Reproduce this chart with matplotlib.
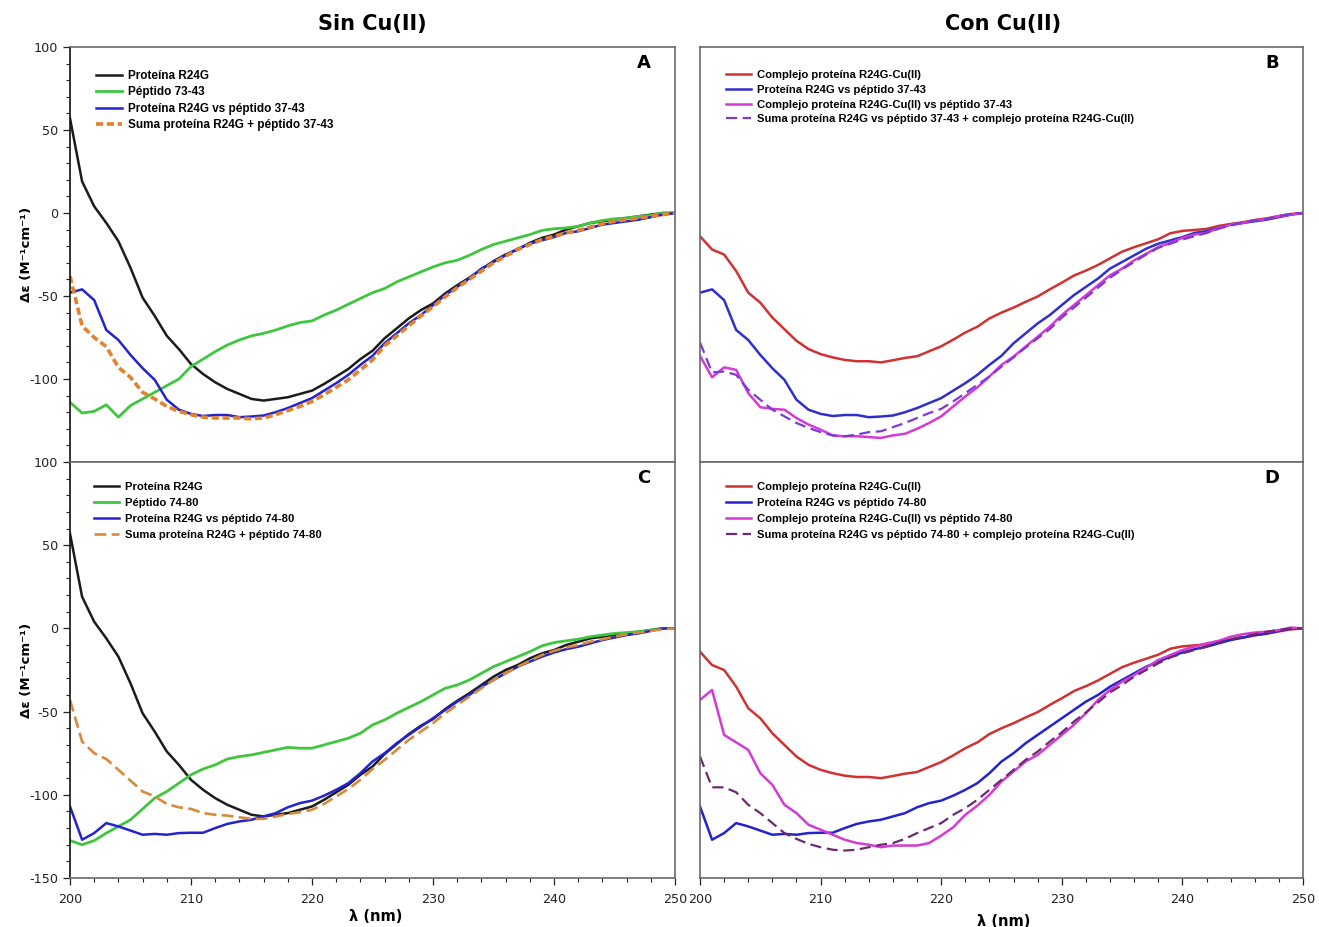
import numpy as np
import matplotlib
matplotlib.use("Agg")
import matplotlib.pyplot as plt
from matplotlib.ticker import MultipleLocator

plt.rcParams["axes.unicode_minus"] = False

# CD spectra, 200-250 nm at 1 nm steps
wl = np.arange(200, 251)

prot_r24g = [57, 19, 4, -6, -17, -33, -51, -62, -74, -82, -91, -97, -102, -106, -109, -112, -113,
             -112, -111, -109, -107, -103, -98.5, -94, -88, -83, -75.5, -69.5, -63.5, -58.5, -54.5,
             -48.5, -43.5, -39, -34, -29, -25, -22, -18, -15, -13, -10, -8, -6, -5, -4, -3, -2, -1, 0, 0]
pep_37_43 = [-114, -120.5, -119.5, -115.5, -123, -116, -112, -108, -104, -100, -92.5, -88, -83.5,
             -79.5, -76.5, -74, -72.5, -70.5, -68, -66, -65, -61.5, -58.5, -55, -51.5, -48, -45.5,
             -41.5, -38.5, -35.5, -32.5, -30, -28.5, -25.5, -22, -19, -17, -15, -13, -10.5, -9.5,
             -9, -8, -6, -4.5, -3.5, -3, -2, -1.5, 0, 0]
vs_37_43 = [-48, -46, -52.5, -70.5, -76.5, -85.5, -93.5, -100.5, -112.5, -118.5, -121, -122.3, -121.7,
            -121.7, -123, -122.6, -122, -120, -117.5, -114.5, -111.5, -107, -102.5, -97.5, -91.5, -86,
            -78.5, -72.5, -66.5, -61.5, -55.5, -49.5, -44.5, -39.5, -33.5, -29.5, -25.5, -21.5, -18.5,
            -16.5, -14.5, -12, -11, -9, -7, -6, -5, -4, -2.5, -1, 0]
sum_37_43 = [-38, -68, -75, -80.5, -93, -99, -108, -112, -116.5, -119.5, -121.5, -123, -123.5, -123.5,
             -123.5, -124, -123.5, -121.5, -119, -116.5, -113.5, -109.5, -105, -100.5, -94.5, -88.5,
             -80, -74, -68, -62, -56.5, -50.5, -45, -40, -35, -30, -26, -22, -19, -16, -14, -12, -10.5,
             -8.5, -6.5, -5, -4, -3, -2, -1, 0]

pep_74_80 = [-127.5, -130, -127.5, -123, -119, -115, -108.5, -102, -98, -93, -88, -84.5, -82, -78.5,
             -77, -76, -74.5, -73, -71.5, -72, -72, -70, -68, -66, -63, -58, -55, -51, -47.5, -44, -40,
             -36, -34, -31, -27, -23, -20, -17, -14, -10.5, -8.5, -7.5, -6.5, -5, -4, -3, -2.5, -2, -1, 0, 0]
vs_74_80 = [-107, -127, -123, -117, -119, -121.5, -124, -123.5, -124, -123, -122.8, -122.8, -120, -117.5,
            -116, -115, -113, -111, -107.5, -105, -103.5, -100.5, -97, -93, -87, -80, -75, -69, -64, -59,
            -54, -49, -44, -40, -35, -31, -27, -23, -20, -17, -14.5, -12.5, -11, -9, -7, -5.5, -4, -3,
            -1.5, 0, 0]
sum_74_80 = [-43, -68, -75, -78.5, -85, -91.5, -98, -101, -105.5, -107.5, -108.5, -111, -112, -112.5,
             -113.5, -114.5, -114.5, -113, -111.5, -110.5, -109, -105.5, -101, -96.5, -91, -84.5, -79,
             -73, -67, -62, -57, -51, -46, -41, -36, -31, -27, -23, -19.5, -16, -13.5, -11.5, -10, -8,
             -6.5, -5, -3.5, -2.5, -1.5, -0.5, 0]

complex_cu = [-14, -22, -25, -35, -48, -54, -63, -70, -77, -82, -85, -87, -88.5, -89.3, -89.3, -90,
              -88.7, -87.3, -86.3, -83.3, -80.3, -76.3, -72, -68.5, -63.5, -60, -57, -53.5, -50.3, -46,
              -42, -37.7, -34.7, -31.3, -27.3, -23.3, -20.6, -18.2, -15.8, -12.2, -10.8, -10.2, -9.6,
              -7.8, -6.6, -5.6, -4.2, -3.2, -1.8, -0.6, 0]
cplx_vs_37_43 = [-86, -99, -93, -94.5, -108.5, -117, -118, -118.5, -123.5, -127.5, -130.5, -134, -134.5,
                 -134.5, -135, -135.5, -134, -133, -130, -126.5, -122.5, -116.5, -110.5, -105, -98.5,
                 -91.5, -86.5, -80.5, -74.5, -68.5, -61.5, -55.5, -49.5, -43.5, -37.5, -33.5, -28.5,
                 -24.5, -20.5, -18, -15, -13, -12, -9, -7, -6, -4.5, -3.5, -2, -1, 0]
sum_cplx_37_43 = [-78, -96, -95.5, -97.5, -106.5, -112.5, -118.5, -122.5, -126.5, -129.5, -132, -134,
                  -134.5, -133.5, -132, -131.5, -129, -126.5, -123.5, -120.5, -118, -113.5, -108.5,
                  -103.5, -98.5, -92.5, -87, -81, -75.5, -70, -63, -57, -51, -45, -39, -34, -29.5, -25,
                  -21, -18.5, -16, -14, -12, -9.5, -7.5, -6, -4.5, -3.5, -2, -0.5, 0]
cplx_vs_74_80 = [-43, -37, -64, -68.5, -73, -87, -94, -106, -111, -118, -121, -124, -127, -129, -130,
                 -131.5, -130.5, -130.5, -130.5, -129, -124.5, -119.5, -112, -106.5, -100, -92, -86, -80,
                 -76, -70, -64, -58, -51, -43, -37, -32, -28, -23.5, -19, -16, -13, -11, -9, -7.5, -5,
                 -3.5, -2.5, -2, -1, 0.5, 0]
sum_cplx_74_80 = [-77, -95.5, -95.5, -98.5, -106, -111, -117, -123, -126.5, -129.5, -131.5, -133, -133.5,
                  -133, -131.5, -130, -129, -126.5, -123, -120, -117, -112, -108, -103, -97, -91, -85,
                  -79, -74, -68, -62.5, -56, -50.5, -44.5, -38.5, -34, -29, -25, -21, -17.5, -15, -13,
                  -11, -8.5, -6.5, -5, -3.5, -2, -1, 0, 0]

BLACK, GREEN, BLUE = "#1b1b1b", "#3fc63f", "#2323cf"
ORANGE_A, ORANGE_C = "#e3822b", "#d68a3c"
RED, MAGENTA = "#d03232", "#d43ad4"
PURPLE_B, PURPLE_D = "#7b3ad6", "#6e2a6e"

fig = plt.figure(figsize=(13.19, 9.27), dpi=100)
W, H = 1319, 927
def box(x0, y0, x1, y1):
    return fig.add_axes([x0 / W, 1 - y1 / H, (x1 - x0) / W, (y1 - y0) / H])

axA = box(70, 47, 675, 462)
axC = box(70, 462, 675, 878)
axB = box(700, 47, 1303, 462)
axD = box(700, 462, 1303, 878)

for ax in (axA, axB, axC, axD):
    ax.set_xlim(200, 250)
    ax.set_ylim(-150, 100)
    for s in ax.spines.values():
        s.set_color("#6a6a6a")
        s.set_linewidth(1.2)
    ax.tick_params(which="both", direction="out", labelsize=9.2, colors="#222222")
    ax.tick_params(which="major", length=5, width=0.9)
    ax.tick_params(which="minor", length=3, width=0.8)
    ax.tick_params(axis="x", pad=6)
    ax.xaxis.set_major_locator(MultipleLocator(10))
    ax.xaxis.set_minor_locator(MultipleLocator(2))
    ax.yaxis.set_major_locator(MultipleLocator(50))
    ax.yaxis.set_minor_locator(MultipleLocator(10))

# left column: y axis shown, right column: none
for ax in (axA, axC):
    ax.spines["left"].set_color("#111111")
for ax in (axB, axD):
    ax.tick_params(axis="y", which="both", left=False, labelleft=False)
for ax in (axA, axB):
    ax.tick_params(axis="x", which="both", bottom=False, labelbottom=False)
axA.set_yticks([-100, -50, 0, 50, 100])

ylab = "Δε (M⁻¹cm⁻¹)"
for ax in (axA, axC):
    ax.set_ylabel(ylab, fontsize=9.5, fontweight="bold")
    ax.yaxis.set_label_coords(-0.061, 0.5)
for ax in (axC, axD):
    ax.set_xlabel("λ (nm)", fontsize=10.5, fontweight="bold")
axC.xaxis.set_label_coords(0.505, -0.075)
axD.xaxis.set_label_coords(0.503, -0.086)

# A
axA.plot(wl, prot_r24g, color=BLACK, lw=1.8, label="Proteína R24G")
axA.plot(wl, pep_37_43, color=GREEN, lw=2.0, label="Péptido 73-43")
axA.plot(wl, vs_37_43, color=BLUE, lw=1.8, label="Proteína R24G vs péptido 37-43")
axA.plot(wl, sum_37_43, color=ORANGE_A, lw=2.6, ls=(0, (2.0, 1.0)),
         label="Suma proteína R24G + péptido 37-43")

# B
axB.plot(wl, complex_cu, color=RED, lw=1.8, label="Complejo proteína R24G-Cu(II)")
axB.plot(wl, vs_37_43, color="#2f2fcc", lw=1.8, label="Proteína R24G vs péptido 37-43")
axB.plot(wl, cplx_vs_37_43, color=MAGENTA, lw=1.8, label="Complejo proteína R24G-Cu(II) vs péptido 37-43")
axB.plot(wl, sum_cplx_37_43, color=PURPLE_B, lw=1.6, ls=(0, (5, 2.5)),
         label="Suma proteína R24G vs péptido 37-43 + complejo proteína R24G-Cu(II)")

# C
axC.plot(wl, prot_r24g, color=BLACK, lw=1.8, label="Proteína R24G")
axC.plot(wl, pep_74_80, color=GREEN, lw=2.0, label="Péptido 74-80")
axC.plot(wl, vs_74_80, color=BLUE, lw=1.8, label="Proteína R24G vs péptido 74-80")
axC.plot(wl, sum_74_80, color=ORANGE_C, lw=1.9, ls=(0, (4.5, 2)),
         label="Suma proteína R24G + péptido 74-80")

# D
axD.plot(wl, complex_cu, color=RED, lw=1.8, label="Complejo proteína R24G-Cu(II)")
axD.plot(wl, vs_74_80, color=BLUE, lw=1.8, label="Proteína R24G vs péptido 74-80")
axD.plot(wl, cplx_vs_74_80, color=MAGENTA, lw=1.8, label="Complejo proteína R24G-Cu(II) vs péptido 74-80")
axD.plot(wl, sum_cplx_74_80, color=PURPLE_D, lw=1.6, ls=(0, (5, 2.5)),
         label="Suma proteína R24G vs péptido 74-80 + complejo proteína R24G-Cu(II)")

# per-panel legend: anchor x, anchor y, font size, row spacing
for ax, x0, top, fs, sp in ((axA, 0.043, 0.944, 8.5, 0.36), (axB, 0.043, 0.944, 8.1, 0.42),
                            (axC, 0.040, 0.952, 8.1, 0.52), (axD, 0.043, 0.952, 8.1, 0.52)):
    ax.legend(loc="upper left", bbox_to_anchor=(x0, top), frameon=False,
              prop={"family": "Liberation Sans", "weight": "bold", "size": fs},
              borderpad=0, borderaxespad=0, handlelength=2.2, handletextpad=0.55,
              labelspacing=sp)

for ax, letter in ((axA, "A"), (axB, "B"), (axC, "C"), (axD, "D")):
    ax.text(0.949, 0.982, letter, transform=ax.transAxes, ha="center", va="top",
            fontsize=13, fontweight="bold", family="DejaVu Sans")

fig.text(372 / W, 1 - 24 / H, "Sin Cu(II)", ha="center", va="center", fontsize=15, fontweight="bold")
fig.text(1003 / W, 1 - 24 / H, "Con Cu(II)", ha="center", va="center", fontsize=15, fontweight="bold")

fig.savefig("out.png", dpi=100)
